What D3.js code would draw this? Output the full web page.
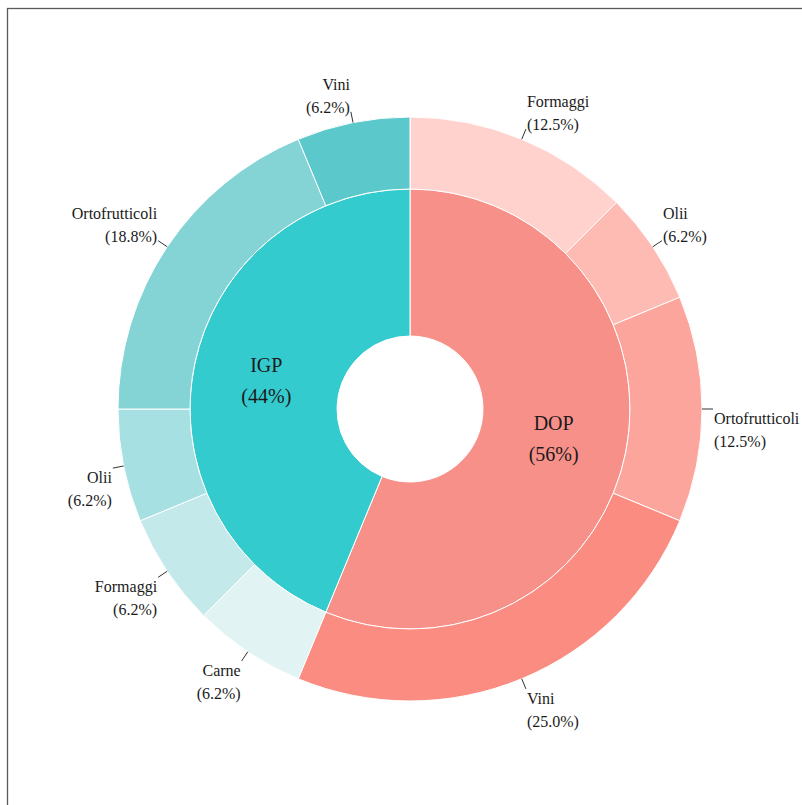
<!DOCTYPE html>
<html>
<head>
<meta charset="utf-8">
<script src="https://cdn.jsdelivr.net/npm/d3@7"></script>
<style>
  body { margin: 0; background: #fff; }
  svg { display: block; }
</style>
</head>
<body>
<svg id="chart"></svg>
<script>
// inner ring: type of denomination
var groups = ["DOP", "IGP"];
var groupCounts = [9, 7];
var groupLabels = ["56%", "44%"];

// outer ring: product category within each type
var subGroup = ["DOP", "DOP", "DOP", "DOP", "IGP", "IGP", "IGP", "IGP", "IGP"];
var subNames = ["Formaggi", "Olii", "Ortofrutticoli", "Vini", "Carne", "Formaggi", "Olii", "Ortofrutticoli", "Vini"];
var subCounts = [2, 1, 2, 4, 1, 1, 1, 3, 1];
var subLabels = ["12.5%", "6.2%", "12.5%", "25.0%", "6.2%", "6.2%", "6.2%", "18.8%", "6.2%"];

(function() {
    var W = 802, H = 805;
    var cx = 410, cy = 409;
    var rHole = 73, rMid = 220, rOut = 292;

    var svg = d3.select("#chart")
        .attr("width", W)
        .attr("height", H);

    // panel frame (runs off the right / bottom edges)
    svg.append("rect")
        .attr("x", 7.5).attr("y", 8.5)
        .attr("width", 830).attr("height", 830)
        .attr("fill", "none")
        .attr("stroke", "#5a5a5a")
        .attr("stroke-width", 1.3);

    var g = svg.append("g")
        .attr("transform", `translate(${cx}, ${cy})`);

    var innerColor = d3.scaleOrdinal()
        .domain(groups)
        .range(["#F8908A", "#34CBCF"]);

    var outerColors = ["#FFD2CD", "#FDBBB3", "#FCA59C", "#FA8C81",
                       "#E1F4F3", "#C4E9EA", "#A6E0E2", "#84D4D6", "#5BC8CC"];

    var pie = d3.pie().sort(null).value(d => d.v);

    var innerData = pie(groups.map((k, i) => ({ k: k, v: groupCounts[i], lab: groupLabels[i] })));
    var outerData = pie(subNames.map((n, i) => ({ g: subGroup[i], n: n, v: subCounts[i], lab: subLabels[i], c: outerColors[i] })));

    var arcIn = d3.arc().innerRadius(rHole).outerRadius(rMid);
    var arcOut = d3.arc().innerRadius(rMid).outerRadius(rOut);

    g.selectAll("path.inner")
        .data(innerData)
        .enter()
        .append("path")
        .attr("class", "inner")
        .attr("d", arcIn)
        .attr("fill", d => innerColor(d.data.k))
        .attr("stroke", "#fff")
        .attr("stroke-width", 1);

    g.selectAll("path.outer")
        .data(outerData)
        .enter()
        .append("path")
        .attr("class", "outer")
        .attr("d", arcOut)
        .attr("fill", d => d.data.c)
        .attr("stroke", "#fff")
        .attr("stroke-width", 1);

    var font = "'Liberation Serif', 'Times New Roman', serif";

    // inner labels
    var rLab = (rHole + rMid) / 2;
    innerData.forEach(d => {
        var a = (d.startAngle + d.endAngle) / 2;
        var x = rLab * Math.sin(a), y = -rLab * Math.cos(a);
        var t = g.append("text")
            .attr("text-anchor", "middle")
            .style("font-family", font)
            .style("font-size", "20px")
            .attr("fill", "#1a1a1a");
        t.append("tspan").attr("x", x).attr("y", y - 8).text(d.data.k);
        t.append("tspan").attr("x", x).attr("y", y + 23).text("(" + d.data.lab + ")");
    });

    // outer labels with short leader lines
    outerData.forEach(d => {
        var a = (d.startAngle + d.endAngle) / 2;
        var s = Math.sin(a), c = Math.cos(a);
        var x0 = rOut * s, y0 = -rOut * c;
        var x1 = (rOut + 11) * s, y1 = -(rOut + 11) * c;

        g.append("line")
            .attr("x1", x0).attr("y1", y0)
            .attr("x2", x1).attr("y2", y1)
            .attr("stroke", "#333")
            .attr("stroke-width", 1);

        var right = s > 0.001;
        var top = c > 0.01;
        var tx = right ? x1 + 1 : x1 - 1;
        var b1 = top ? y1 - 22 : y1 + 15;

        var t = g.append("text")
            .attr("text-anchor", right ? "start" : "end")
            .style("font-family", font)
            .style("font-size", "16px")
            .attr("fill", "#1a1a1a");
        t.append("tspan").attr("x", tx).attr("y", b1).text(d.data.n);
        t.append("tspan").attr("x", tx).attr("y", b1 + 23).text("(" + d.data.lab + ")");
    });
})();
</script>
</body>
</html>
